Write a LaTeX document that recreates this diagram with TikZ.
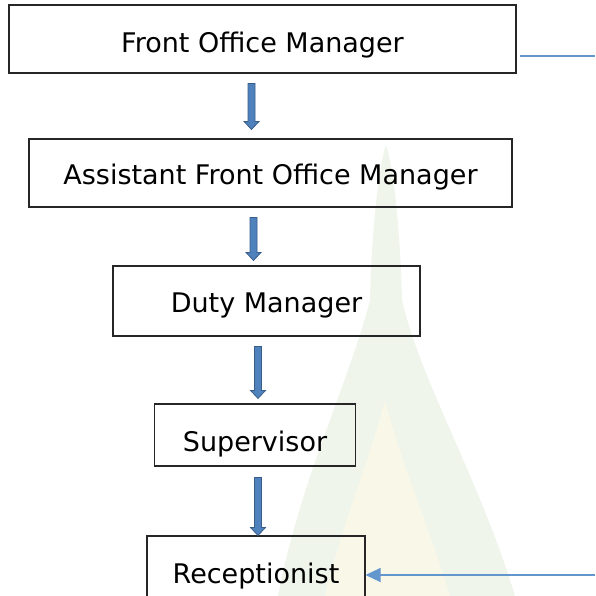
\documentclass[tikz,border=0pt]{standalone}
\usepackage{fontspec}
\setmainfont{DejaVu Sans}
\usetikzlibrary{arrows.meta,calc}
\definecolor{arrowfill}{RGB}{79,129,189}
\definecolor{arrowline}{RGB}{56,93,138}
\definecolor{thinblue}{RGB}{98,150,205}
\definecolor{wmgreen}{RGB}{240,245,236}
\definecolor{wmyellow}{RGB}{249,248,232}
\begin{document}
\begin{tikzpicture}[x=1pt,y=-1pt,
  box/.style={draw=black!85, line width=1.1pt, rectangle, inner sep=0pt,
    text height=30pt, text depth=8pt, font=\fontsize{27}{32}\selectfont},
  blockarrow/.style={draw=arrowline, fill=arrowfill, line width=0.8pt,
    to path={let \p1=(\tikztostart), \p2=(\tikztotarget) in
      (\x1-3.5pt,\y1) -- (\x1-3.5pt,\y2+8pt) -- (\x1-7.5pt,\y2+8pt) -- (\x1,\y2)
      -- (\x1+7.5pt,\y2+8pt) -- (\x1+3.5pt,\y2+8pt) -- (\x1+3.5pt,\y1) -- cycle}},
  thinline/.style={draw=thinblue, line width=1.3pt}]
\fill[white] (0,0) rectangle (595,596);
\useasboundingbox (0,0) rectangle (595,596);
% faint watermark (spire)
\fill[wmgreen] (386,145) .. controls (378,170) and (372,230) .. (370,300)
  .. controls (350,380) and (300,480) .. (278,596)
  -- (515,596) .. controls (480,480) and (420,380) .. (402,300)
  .. controls (400,230) and (394,170) .. cycle;
\fill[wmyellow] (385,400) .. controls (370,460) and (340,530) .. (325,596)
  -- (450,596) .. controls (430,530) and (400,460) .. cycle;
% boxes
\node[box, minimum width=507pt, minimum height=68pt, text height=33pt, text depth=6pt] (fom) at (262.5,39) {Front Office Manager};
\node[box, minimum width=483pt, minimum height=68pt] (afom) at (270.5,173) {Assistant Front Office Manager};
\node[box, minimum width=307pt, minimum height=70pt] (duty) at (266.5,301) {Duty Manager};
\node[box, minimum width=201pt, minimum height=62pt, text height=36pt, text depth=4pt] (sup) at (255,435) {Supervisor};
\node[box, minimum width=218pt, minimum height=68pt, text height=33pt, text depth=7pt] (rec) at (256,570) {Receptionist};
% block arrows
\draw[blockarrow] ([xshift=-11pt,yshift=-10pt]fom.south) to ([yshift=9pt]afom.north);
\draw[blockarrow] ([xshift=-17pt,yshift=-10pt]afom.south) to ([yshift=5pt]duty.north);
\draw[blockarrow] ([xshift=-8.5pt,yshift=-10pt]duty.south) to ([yshift=5pt]sup.north);
\draw[blockarrow] ([xshift=3pt,yshift=-11pt]sup.south) to (rec.north);
% side connectors
\coordinate (tr) at (595,56);
\coordinate (br) at (595,575);
\draw[thinline] ([xshift=3pt]fom.east |- tr) -- (tr);
\draw[thinline, -{Triangle[length=15pt,width=14pt]}] (br) -- (rec.east |- br);
\end{tikzpicture}
\end{document}
